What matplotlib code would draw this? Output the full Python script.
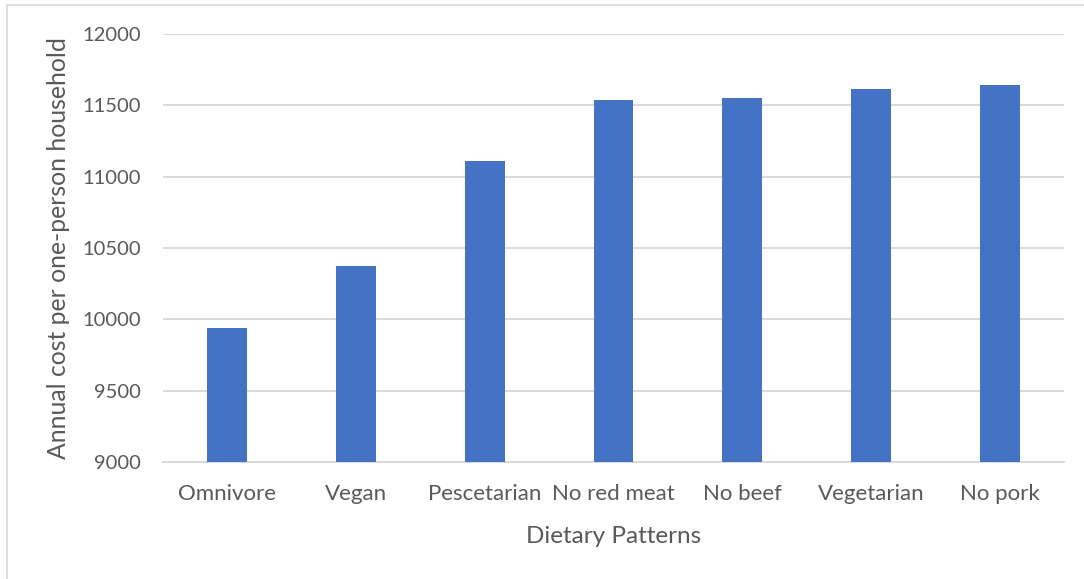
import matplotlib
matplotlib.use("Agg")
import matplotlib.pyplot as plt
import numpy as np
from matplotlib.patches import Rectangle

diets = ["Omnivore", "Vegan", "Pescetarian", "No red meat", "No beef", "Vegetarian", "No pork"]
annual_cost = [9940, 10372, 11108, 11536, 11553, 11617, 11646]
y_ticks = [9000, 9500, 10000, 10500, 11000, 11500, 12000]

_BLUE, _GRID, _TEXT = "#4472c4", "#d9d9d9", "#595959"

plt.rcParams["font.family"] = ["Lato", "DejaVu Sans"]

fig = plt.figure(figsize=(10.84, 5.79), dpi=100)
ax = fig.add_axes([163 / 1084, 1 - 462 / 579, (1064 - 163) / 1084, (462 - 34) / 579])

x = np.arange(len(diets))
ax.bar(x, annual_cost, 0.31, color=_BLUE, zorder=3)
ax.set_xlim(-0.5, len(diets) - 0.5)
ax.set_ylim(y_ticks[0], y_ticks[-1])
ax.set_yticks(y_ticks)
ax.set_xticks(x)
ax.set_xticklabels(diets)

ax.grid(axis="y", color=_GRID, lw=1.4, zorder=0)
for s in ("top", "right", "left"):
    ax.spines[s].set_visible(False)
ax.spines["bottom"].set_color(_GRID)
ax.spines["bottom"].set_linewidth(1.4)
ax.tick_params(axis="both", length=0, colors=_TEXT)
ax.tick_params(axis="y", pad=16, labelsize=14.5)
ax.tick_params(axis="x", pad=16, labelsize=16)

ax.set_xlabel("Dietary Patterns", fontsize=17.5, color=_TEXT, labelpad=16)
ax.set_ylabel("Annual cost per one-person household", fontsize=17.8, color=_TEXT, labelpad=9)

# light chart-area border
fig.patches.append(Rectangle((7 / 1084, -0.1), 1.2, 1.1 - 5 / 579,
                             transform=fig.transFigure, fill=False,
                             edgecolor=_GRID, lw=1.2))

fig.savefig("out.png", dpi=100)
